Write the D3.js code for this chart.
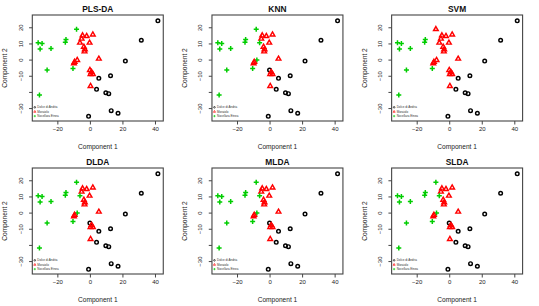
<!DOCTYPE html>
<html>
<head>
<meta charset="utf-8">
<script src="https://cdn.jsdelivr.net/npm/d3@7"></script>
<style>
  html, body { margin: 0; padding: 0; background: #fff; }
  svg { display: block; font-family: "Liberation Sans", Arial, Helvetica, sans-serif; }
</style>
</head>
<body>
<svg id="chart" width="539" height="306"></svg>
<script>
// ---- Data (scores on first two components) ----
const comp1 = [41.8, 31.6, 21.8, 12.7, 5.5, 4.1, 9.8, 11.6, 13.1, 17.3, -0.8,
               1.8, -2.0, -4.5, -5.1, -6.1, -0.2, -3.7, -3.1, -3.3, 5.5, -7.8, -9.4, -9.8,
               0.0, 1.0, 1.8, 0.4, 0.4,
               -8.2, -14.7, -15.1, -31.8, -29.4, -30.6, -23.9, -26.3, -10.4, -31.0];
const comp2 = [24.0, 12.0, -0.9, -10.0, -11.6, -18.4, -20.5, -21.1, -31.6, -33.2, -35.1,
               15.5, 14.5, 14.9, 12.9, 10.4, 10.4, 7.9, 6.3, 5.0, 0.5, -0.3, -1.5, -2.4,
               -6.5, -7.7, -9.0, -9.0, -16.4,
               18.8, 12.4, 10.8, 10.4, 10.0, 6.5, 6.9, -6.5, -5.5, -21.9];

const groups = ["Dolce di Andria", "Moraiolo", "Nocellara Etnea"];
const titles = ["PLS-DA", "KNN", "SVM", "DLDA", "MLDA", "SLDA"];

const classPLSDA = [0,0,0,0,0,0,0,0,0,0,0, 1,1,1,1,1,1,1,1,1,1,1,1,1, 1,1,1,1,1, 2,2,2,2,2,2,2,2,2,2];
const classKNN   = [0,0,0,0,0,0,0,0,0,0,0, 1,1,1,1,2,1,1,1,1,1,2,1,1, 0,1,1,1,1, 2,2,2,2,2,2,2,2,2,2];
const classSVM   = [0,0,0,0,0,0,0,0,0,0,0, 1,1,1,1,1,1,1,1,1,1,1,1,1, 1,1,1,1,1, 1,2,2,2,2,2,2,2,2,2];
const classDLDA  = [0,0,0,0,0,0,0,0,0,0,0, 1,1,1,1,2,1,1,1,1,1,2,1,1, 0,1,1,1,1, 2,2,2,2,2,2,2,2,2,2];
const classMLDA  = [0,0,0,0,0,0,0,0,0,0,0, 1,1,1,1,2,1,1,1,1,1,2,1,1, 0,1,1,1,1, 2,2,2,2,2,2,2,2,2,2];
const classSLDA  = [0,0,0,0,0,0,0,0,0,0,0, 1,1,1,1,2,1,1,1,1,1,2,1,1, 0,1,1,1,1, 2,2,2,2,2,2,2,2,2,2];
const panelClasses = [classPLSDA, classKNN, classSVM, classDLDA, classMLDA, classSLDA];

const xTicks = [-20, 0, 20, 40];
const yTicks = [20, 10, 0, -10, -20, -30];
const yTickLabels = ["20", "10", "0", "\u221210", "", "\u221230"];
const xTickLabels = ["\u221220", "0", "20", "40"];

// ---- Layout ----
const svg = d3.select("#chart");
const W = 539, H = 306;
const cellW = W / 3, cellH = H / 2;
const box = { left: 32.3, right: cellW - 16.4, top: 15, bottom: 121 };
const colors = ["#000000", "#FF0000", "#00CD00"];

const x = d3.scaleLinear().domain([-35.4, 45.1]).range([box.left, box.right]);
const y = d3.scaleLinear().domain([-38.0, 27.6]).range([box.bottom, box.top]);

function drawSymbol(g, cls, cx, cy, s) {
  if (cls === 0) {
    g.append("circle").attr("cx", cx).attr("cy", cy).attr("r", 1.8 * s)
      .attr("fill", "none").attr("stroke", colors[0]).attr("stroke-width", 1.45 * s);
  } else if (cls === 1) {
    const r = 2.7 * s;
    const pts = [[cx, cy - r], [cx + r * 0.866, cy + r * 0.5], [cx - r * 0.866, cy + r * 0.5]];
    g.append("path").attr("d", d3.line()(pts) + "Z")
      .attr("fill", "none").attr("stroke", colors[1]).attr("stroke-width", 1.45 * s)
      .attr("stroke-linejoin", "miter");
  } else {
    const r = 2.5 * s;
    g.append("path").attr("d", `M${cx - r},${cy}H${cx + r}M${cx},${cy - r}V${cy + r}`)
      .attr("stroke", colors[2]).attr("stroke-width", 1.5 * s).attr("fill", "none");
  }
}

titles.forEach((title, i) => {
  const col = i % 3, row = Math.floor(i / 3);
  const g = svg.append("g").attr("transform", `translate(${col * cellW},${row * cellH})`);
  const cls = panelClasses[i];

  // Points
  const pg = g.append("g");
  comp1.forEach((v, k) => drawSymbol(pg, cls[k], x(v), y(comp2[k]), 1));

  // Box
  g.append("rect").attr("x", box.left).attr("y", box.top)
    .attr("width", box.right - box.left).attr("height", box.bottom - box.top)
    .attr("fill", "none").attr("stroke", "#444").attr("stroke-width", 1.1);

  // X axis
  const xa = g.append("g").attr("transform", `translate(0,${box.bottom})`)
    .call(d3.axisBottom(x).tickValues(xTicks).tickSize(3.5).tickPadding(2)
      .tickFormat((d, j) => xTickLabels[j]));
  xa.select(".domain").remove();
  xa.selectAll(".tick line").attr("stroke", "#444");
  xa.selectAll(".tick text").attr("font-size", 6).attr("fill", "#222")
    .attr("font-family", "Liberation Sans, Arial, sans-serif");

  // Y axis
  const ya = g.append("g").attr("transform", `translate(${box.left},0)`)
    .call(d3.axisLeft(y).tickValues(yTicks).tickSize(3.2).tickPadding(0)
      .tickFormat((d, j) => yTickLabels[j]));
  ya.select(".domain").remove();
  ya.selectAll(".tick line").attr("stroke", "#444");
  ya.selectAll(".tick text").attr("font-size", 6).attr("fill", "#222")
    .attr("font-family", "Liberation Sans, Arial, sans-serif")
    .attr("text-anchor", "middle").attr("x", 0).attr("dy", 0)
    .attr("transform", "translate(-11.6,0) rotate(-90)")
    .attr("dominant-baseline", "central");

  // Title
  g.append("text").attr("x", (box.left + box.right) / 2).attr("y", 11.5)
    .attr("text-anchor", "middle").attr("font-size", 8.4).attr("font-weight", "bold")
    .attr("fill", "#111").text(title);

  // Axis titles
  g.append("text").attr("x", (box.left + box.right) / 2).attr("y", 149)
    .attr("text-anchor", "middle").attr("font-size", 6.6).attr("fill", "#222").text("Component 1");
  g.append("text").attr("transform", `translate(7.2,${(box.top + box.bottom) / 2}) rotate(-90)`)
    .attr("text-anchor", "middle").attr("font-size", 6.6).attr("fill", "#222").text("Component 2");

  // Legend
  const lg = g.append("g");
  groups.forEach((name, j) => {
    const ly = 107.3 + j * 4.4;
    drawSymbol(lg, j, box.left + 2.5, ly, 0.45);
    lg.append("text").attr("x", box.left + 5).attr("y", ly).attr("dominant-baseline", "central")
      .attr("font-size", 3).attr("fill", "#333").text(name);
  });
});
</script>
</body>
</html>
